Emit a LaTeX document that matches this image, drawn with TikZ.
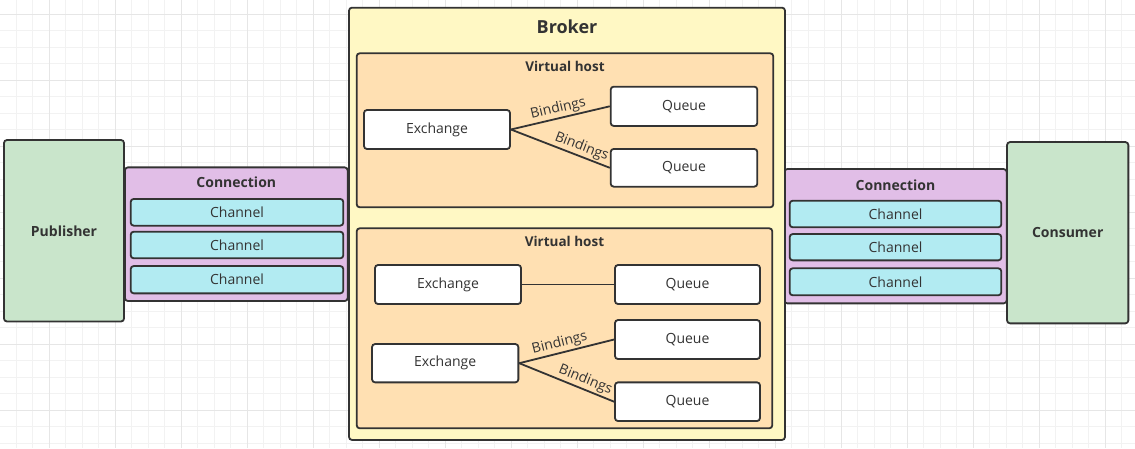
\documentclass[tikz,border=0pt]{standalone}
\usepackage{fontspec}
\setmainfont{Open Sans}
\definecolor{ink}{HTML}{333333}
\definecolor{pubgreen}{HTML}{C9E5CB}
\definecolor{connpurple}{HTML}{E1BEE7}
\definecolor{chancyan}{HTML}{B2EBF2}
\definecolor{brokeryellow}{HTML}{FFF8C4}
\definecolor{vhorange}{HTML}{FFE0B2}
\definecolor{gridminor}{HTML}{F2F2F2}
\definecolor{gridmajor}{HTML}{E6E6E6}
\tikzset{
  shapebox/.style={draw=ink, line width=1.8pt, rounded corners=3pt, inner sep=0pt, text=ink, font=\fontsize{14}{16}\selectfont},
  pubbox/.style={shapebox, fill=pubgreen, font=\fontsize{14}{16}\selectfont\bfseries},
  connbox/.style={shapebox, fill=connpurple},
  chanbox/.style={shapebox, fill=chancyan},
  brokerbox/.style={shapebox, fill=brokeryellow},
  vhbox/.style={shapebox, fill=vhorange},
  whitebox/.style={shapebox, fill=white},
  titletext/.style={text=ink, inner sep=0pt, font=\fontsize{14}{16}\selectfont\bfseries},
  bigtitle/.style={text=ink, inner sep=0pt, font=\fontsize{18}{20}\selectfont\bfseries},
  link/.style={draw=ink, line width=1.8pt},
  bindlabel/.style={sloped, above, inner sep=1.5pt, text=ink, font=\fontsize{14}{16}\selectfont},
}
\begin{document}
\begin{tikzpicture}[x=1pt,y=-1pt]
\useasboundingbox (0,0) rectangle (1135,448);
% grid background
\fill[white] (0,0) rectangle (1135,448);
\foreach \i in {0,...,69} {
  \draw[gridminor, line width=1pt] ({-0.2+16.5*\i},0) -- ({-0.2+16.5*\i},448);
}
\foreach \j in {0,...,27} {
  \draw[gridminor, line width=1pt] (0,{-2.5+16.5*\j}) -- (1135,{-2.5+16.5*\j});
}
\foreach \i in {0,...,17} {
  \draw[gridmajor, line width=1pt] ({49.3+66*\i},0) -- ({49.3+66*\i},448);
}
\foreach \j in {0,...,6} {
  \draw[gridmajor, line width=1pt] (0,{14+66*\j}) -- (1135,{14+66*\j});
}

% Publisher side
\node[pubbox, minimum width=120pt, minimum height=181.5pt] (pub) at (64,230.75) {Publisher};
\node[connbox, minimum width=222.7pt, minimum height=133.7pt] (connL) at (236.3,234.2) {};
\node[titletext] (connLt) at (236.3,182.7) {Connection};
\node[chanbox, minimum width=212.6pt, minimum height=26.7pt] (chL1) at (237,212.3) {Channel};
\node[chanbox, minimum width=212.6pt, minimum height=26.6pt] (chL2) at (237,245) {Channel};
\node[chanbox, minimum width=212.6pt, minimum height=27.3pt] (chL3) at (237,279.7) {Channel};

% Consumer side
\node[connbox, minimum width=222.4pt, minimum height=134.3pt] (connR) at (895.5,236.2) {};
\node[titletext] (connRt) at (895.5,185.7) {Connection};
\node[chanbox, minimum width=211.6pt, minimum height=26.6pt] (chR1) at (895.5,214) {Channel};
\node[chanbox, minimum width=211.6pt, minimum height=26.3pt] (chR2) at (895.5,247.2) {Channel};
\node[chanbox, minimum width=211.6pt, minimum height=27pt] (chR3) at (895.5,281.8) {Channel};
\node[pubbox, minimum width=121.3pt, minimum height=181.3pt] (cons) at (1067.7,232.7) {Consumer};

% Broker
\node[brokerbox, minimum width=436pt, minimum height=432.3pt] (broker) at (567,223.8) {};
\node[bigtitle] (brokert) at (567,26.7) {Broker};

% Virtual host 1
\node[vhbox, minimum width=416.6pt, minimum height=154pt] (vh1) at (565,130.3) {};
\node[titletext, font=\fontsize{13.5}{16}\selectfont\bfseries] (vh1t) at (565,66) {Virtual host};
\node[whitebox, minimum width=146pt, minimum height=39pt] (ex1) at (437,129.5) {Exchange};
\node[whitebox, minimum width=146.6pt, minimum height=39.3pt] (q1) at (684,106.3) {Queue};
\node[whitebox, minimum width=146.6pt, minimum height=37.7pt] (q2) at (684,167.8) {Queue};
\draw[link] (ex1.east) -- node[bindlabel, pos=0.5] {Bindings} (q1.west);
\draw[link] (ex1.east) -- node[bindlabel, pos=0.68] {Bindings} (q2.west);

% Virtual host 2
\node[vhbox, minimum width=415.6pt, minimum height=200pt] (vh2) at (564.5,328.3) {};
\node[titletext, font=\fontsize{13.5}{16}\selectfont\bfseries] (vh2t) at (564.5,241.7) {Virtual host};
\node[whitebox, minimum width=146pt, minimum height=39pt] (ex2a) at (448,284.5) {Exchange};
\node[whitebox, minimum width=145pt, minimum height=39pt] (q2a) at (687.5,284.5) {Queue};
\draw[link] (ex2a.east) -- (q2a.west);
\node[whitebox, minimum width=146.3pt, minimum height=38.3pt] (ex2b) at (445.2,363.2) {Exchange};
\node[whitebox, minimum width=145pt, minimum height=39pt] (q2b) at (687.5,339.5) {Queue};
\node[whitebox, minimum width=145pt, minimum height=38.7pt] (q2c) at (687.5,401.7) {Queue};
\draw[link] (ex2b.east) -- node[bindlabel, pos=0.45] {Bindings} (q2b.west);
\draw[link] (ex2b.east) -- node[bindlabel, pos=0.66] {Bindings} (q2c.west);
\end{tikzpicture}
\end{document}
